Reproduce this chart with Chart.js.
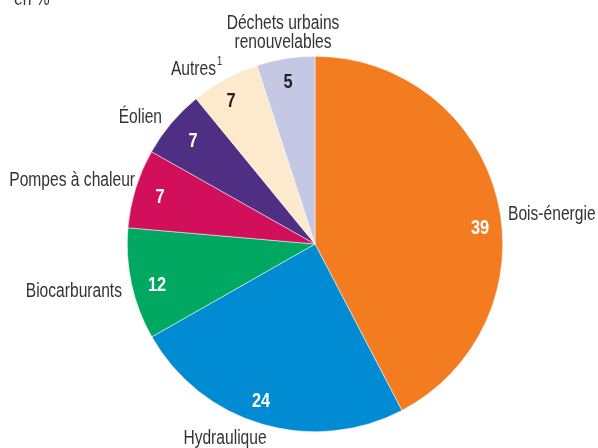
<!DOCTYPE html>
<html lang="fr">
<head>
<meta charset="utf-8">
<script src="https://cdn.jsdelivr.net/npm/chart.js@4.4.1/dist/chart.umd.min.js"></script>
<style>
  html, body { margin: 0; padding: 0; background: #fff; }
  canvas { display: block; }
</style>
</head>
<body>
<canvas id="pie" width="598" height="448"></canvas>
<script>
// sources d'énergie renouvelable, en %
const sources = ['Bois-énergie', 'Hydraulique', 'Biocarburants', 'Pompes à chaleur', 'Éolien', 'Autres', 'Déchets urbains renouvelables']
const valeurs = [39, 24, 12, 7, 7, 7, 5]                 // chiffres imprimés dans les parts
const parts = [42.3, 24.4, 9.6, 6.8, 5.9, 5.9, 5.0]      // taille des parts
const couleurs = ['#f47c20', '#008bd2', '#00a862', '#d20f5a', '#4f2f83', '#fde9cb', '#c5c8e4']
const couleursChiffres = ['#fff', '#fff', '#fff', '#fff', '#fff', '#231f20', '#231f20']

const FONT = '"Liberation Sans", Arial, sans-serif'
const ETROIT = 0.78   // police condensée : on resserre Liberation Sans
const GRIS = '#333333'

// placement des textes, relatif au centre du camembert
const posChiffres = [[165, -16], [-54, 157], [-158, 41], [-155, -47], [-122, -103], [-84, -143], [-27, -162]]
const posNoms = [
  { l: ['Bois-énergie'], dx: 193, dy: -30, align: 'left' },
  { l: ['Hydraulique'], dx: -90, dy: 194, align: 'center' },
  { l: ['Biocarburants'], dx: -193, dy: 47, align: 'right' },
  { l: ['Pompes à chaleur'], dx: -180, dy: -64, align: 'right' },
  { l: ['Éolien'], dx: -153, dy: -127, align: 'right' },
  { l: ['Autres'], dx: -99, dy: -175, align: 'right', sup: '1' },
  { l: ['Déchets urbains', 'renouvelables'], dx: -32, dy: -221, align: 'center' }
]

function texte (ctx, t, x, y) {
  ctx.save()
  ctx.translate(x, y)
  ctx.scale(ETROIT, 1)
  ctx.fillText(t, 0, 0)
  ctx.restore()
}

const textes = {
  id: 'textes',
  afterDatasetsDraw (chart) {
    const ctx = chart.ctx
    const arcs = chart.getDatasetMeta(0).data
    const cx = arcs[0].x, cy = arcs[0].y
    ctx.save()
    ctx.textBaseline = 'middle'

    // chiffres
    ctx.font = 'bold 21px ' + FONT
    ctx.textAlign = 'center'
    valeurs.forEach((v, i) => {
      ctx.fillStyle = couleursChiffres[i]
      texte(ctx, String(v), cx + posChiffres[i][0], cy + posChiffres[i][1])
    })

    // noms
    ctx.font = '20px ' + FONT
    ctx.fillStyle = GRIS
    posNoms.forEach(n => {
      ctx.textAlign = n.align
      n.l.forEach((t, k) => {
        texte(ctx, t, cx + n.dx, cy + n.dy + k * 19)
      })
      if (n.sup) {
        ctx.font = '12px ' + FONT
        ctx.textAlign = 'left'
        texte(ctx, n.sup, cx + n.dx + 1, cy + n.dy - 7)
        ctx.font = '20px ' + FONT
      }
    })

    // unité
    ctx.textAlign = 'left'
    ctx.textBaseline = 'alphabetic'
    texte(ctx, 'en %', 14, 5)
    ctx.restore()
  }
}

new Chart(document.getElementById('pie'), {
  type: 'pie',
  data: {
    labels: sources,
    datasets: [{
      data: parts,
      backgroundColor: couleurs,
      borderColor: '#ffffff',
      borderWidth: 0.5
    }]
  },
  options: {
    responsive: false,
    animation: false,
    layout: { padding: { top: 56, bottom: 16, left: 127, right: 95 } },
    plugins: {
      legend: { display: false },
      tooltip: { enabled: false }
    }
  },
  plugins: [textes]
})
</script>
</body>
</html>
